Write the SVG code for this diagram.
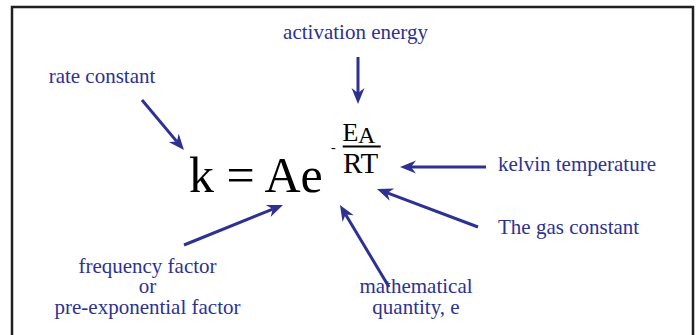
<svg xmlns="http://www.w3.org/2000/svg" width="697" height="335" viewBox="0 0 697 335">
<style>
.lbl{font-family:"Liberation Serif","Times New Roman",serif;font-size:21px;fill:#2e3192}
.eq{font-family:"Liberation Serif","Times New Roman",serif;fill:#000}
.arr{stroke:#2e3192;stroke-width:3;fill:none;marker-end:url(#ah)}
</style>
<defs>
<marker id="ah" markerUnits="userSpaceOnUse" markerWidth="20" markerHeight="16" viewBox="-1 -8 20 16" refX="5" refY="0" orient="auto">
<path d="M0,-6.5 L16,0 L0,6.5 L5,0 Z" fill="#2e3192"/>
</marker>
</defs>
<rect x="12" y="7" width="681" height="400" fill="#fff" stroke="#231f20" stroke-width="2.5"/>
<g id="equation">
<text class="eq" x="189" y="192" font-size="50">k = Ae</text>
<text class="eq" x="331" y="151.5" font-size="14">-</text>
<text class="eq" x="342.5" y="141" font-size="26">E</text>
<text class="eq" x="358" y="143" font-size="24">A</text>
<line x1="342.7" y1="146.5" x2="380.7" y2="146.5" stroke="#000" stroke-width="2"/>
<text class="eq" x="343" y="172.5" font-size="29">RT</text>
</g>
<g id="rate-constant"><text class="lbl" x="102" y="83" text-anchor="middle">rate constant</text></g>
<g id="activation-energy"><text class="lbl" x="355.5" y="39" text-anchor="middle">activation energy</text></g>
<g id="kelvin-temperature"><text class="lbl" x="498" y="170.5">kelvin temperature</text></g>
<g id="gas-constant"><text class="lbl" x="498" y="234">The gas constant</text></g>
<g id="frequency-factor"><text class="lbl" text-anchor="middle"><tspan x="147.5" y="273">frequency factor</tspan><tspan x="147.5" y="293">or</tspan><tspan x="147.5" y="313.5">pre-exponential factor</tspan></text></g>
<g id="mathematical-quantity"><text class="lbl" text-anchor="middle"><tspan x="416" y="293">mathematical</tspan><tspan x="416" y="313.5">quantity, e</tspan></text></g>
<g id="connectors">
<path class="arr" d="M142,100 L176.9,141.6"/>
<path class="arr" d="M358,57 L358,93"/>
<path class="arr" d="M486,167 L411,167"/>
<path class="arr" d="M478,227 L387.3,192.9"/>
<path class="arr" d="M184,245 L272.8,209.1"/>
<path class="arr" d="M389,287 L345.6,214.4"/>
</g>
</svg>
